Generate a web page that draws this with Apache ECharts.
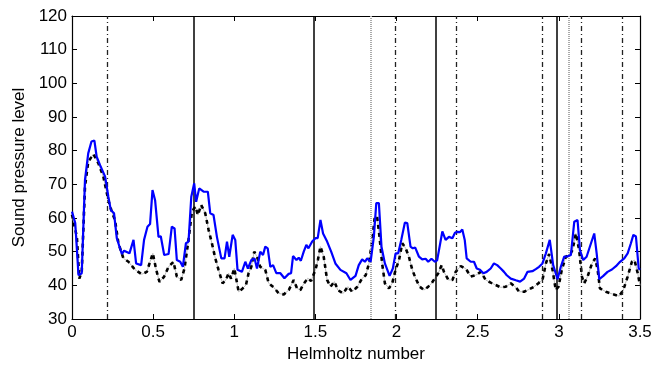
<!DOCTYPE html>
<html><head><meta charset="utf-8">
<script src="https://cdn.jsdelivr.net/npm/echarts@6/dist/echarts.min.js"></script>
<style>html,body{margin:0;padding:0;background:#fff}#c{width:655px;height:371px}</style>
</head><body><div id="c"></div>
<script>
const blueH = [0,0.02,0.04,0.06,0.08,0.10,0.12,0.138,0.152,0.173,0.204,0.224,0.239,0.259,0.276,0.307,0.321,0.354,0.379,0.395,0.426,0.444,0.465,0.481,0.496,0.512,0.533,0.547,0.568,0.595,0.615,0.632,0.646,0.667,0.683,0.702,0.718,0.735,0.753,0.765,0.784,0.811,0.837,0.852,0.872,0.893,0.92,0.94,0.955,0.969,0.99,1.006,1.02,1.047,1.068,1.084,1.105,1.125,1.14,1.16,1.177,1.191,1.206,1.222,1.239,1.259,1.284,1.309,1.335,1.35,1.362,1.383,1.397,1.41,1.428,1.444,1.457,1.48,1.5,1.514,1.531,1.547,1.572,1.597,1.623,1.654,1.691,1.716,1.747,1.767,1.788,1.805,1.819,1.84,1.86,1.875,1.891,1.907,1.928,1.957,1.977,1.994,2.01,2.029,2.051,2.066,2.086,2.1,2.115,2.138,2.158,2.179,2.195,2.215,2.236,2.25,2.282,2.302,2.323,2.344,2.36,2.374,2.39,2.405,2.42,2.432,2.457,2.477,2.494,2.514,2.535,2.555,2.58,2.6,2.62,2.642,2.662,2.679,2.704,2.735,2.761,2.786,2.807,2.837,2.858,2.878,2.899,2.92,2.944,2.965,2.992,3.012,3.033,3.053,3.074,3.095,3.115,3.13,3.15,3.171,3.198,3.218,3.233,3.249,3.274,3.3,3.327,3.352,3.377,3.403,3.424,3.444,3.459,3.475,3.492,3.5];
const blueV = [61.9,58.5,43,43.6,71.3,79.2,82.7,83,78.2,75.7,72.3,66.3,62.4,61.4,54,49.3,50.3,49.5,53.5,46.5,46,53.5,57.4,58.2,68.3,65.3,54.4,54.6,49,49.3,57.4,56.9,47.5,47,45.5,52.5,53,66.3,70.3,64.8,68.8,67.8,67.8,61.4,60.9,54.4,48,48,53,48.5,55,53.5,44.6,44,47,45,47.5,48,45,50,49,51.5,51,45.5,46,43.6,43.6,42.1,43.4,43.6,48.7,47.5,48.2,47.3,50,52,51,53,54,54,59.4,55.4,53,50,46.5,44.6,43.6,41.6,42.8,46,47.7,47,48,47,54.4,64.4,64.4,51.5,46.5,42.8,45,49.5,49.5,53.5,58.6,58.5,51.5,51,51.2,48.5,47.7,47.9,47,47.9,47,47.4,56,53.5,54.4,54,55.6,55.9,55.8,56.6,53.5,48,47,47,45,44.6,43.6,44,45,46.5,46,45,44,43,42,41.5,41.1,42,44,44.2,44.8,45.5,46.5,49.5,53.5,46,41.8,45.5,48.5,48.6,49,58.9,59.4,50.5,47.5,48.5,52.5,55.4,49.5,41.8,42.8,44,44.7,45.7,47,48,49.5,52.5,55,54.5,45,44.6];
const blackH = [0,0.03,0.045,0.06,0.08,0.10,0.132,0.163,0.193,0.224,0.245,0.265,0.286,0.317,0.348,0.389,0.43,0.461,0.481,0.498,0.519,0.539,0.568,0.595,0.625,0.646,0.673,0.693,0.718,0.739,0.76,0.776,0.796,0.821,0.842,0.862,0.883,0.903,0.928,0.948,0.965,0.98,1.0,1.027,1.05,1.072,1.088,1.105,1.123,1.14,1.16,1.191,1.212,1.243,1.274,1.305,1.336,1.366,1.387,1.407,1.428,1.453,1.473,1.5,1.515,1.531,1.551,1.572,1.593,1.617,1.638,1.671,1.7,1.726,1.757,1.788,1.81,1.83,1.85,1.866,1.88,1.895,1.911,1.928,1.953,1.973,1.994,2.015,2.035,2.056,2.076,2.097,2.117,2.142,2.169,2.195,2.216,2.236,2.257,2.278,2.292,2.319,2.344,2.364,2.395,2.426,2.457,2.488,2.519,2.549,2.58,2.611,2.642,2.673,2.704,2.735,2.755,2.786,2.817,2.848,2.878,2.899,2.92,2.94,2.961,2.981,2.998,3.018,3.043,3.068,3.084,3.105,3.125,3.142,3.156,3.177,3.204,3.224,3.239,3.253,3.29,3.331,3.372,3.397,3.424,3.45,3.466,3.486,3.5];
const blackV = [61,54.4,42,44,69.3,76.7,79,76.2,72.3,65.3,61.9,59.4,52.5,48,47,44.6,43.3,44,47,49.5,44.6,41,42.6,45.5,47,42.6,41.6,45,53.5,61.9,63.4,60.9,63.9,61.4,56.4,52.5,48,44.6,40.6,41.6,43.6,42,45,38.1,39,40.1,43.6,45.5,50,48.5,45.5,44.6,40.6,39.4,37.6,37.3,38.6,41.6,39.1,38.6,40.5,42.1,41.3,44.6,47.5,51.5,48.5,41.6,39.6,41.1,38.6,37.6,39.6,38.1,39.5,42.1,43,46.5,53.5,60.4,60.4,54.4,46.5,40.6,39.1,40.6,44.6,47.5,52.5,51,48.5,44.6,42.1,39.6,38.6,39.6,40.6,42.1,43.6,46,44,41.6,41.6,44,45.7,45,42.6,43,44,41.6,40.8,40.1,39.4,39.6,40.6,39.4,38.1,38.1,38.8,39.6,40.8,41.6,46.5,49.3,44.6,38.6,39.6,44.6,48.5,49,50.5,55.4,50.5,42.6,40.6,42.6,46.5,48,44.6,39.1,38.1,37.4,36.8,38.6,42.6,47,47.5,43.6,40];
const solidLines = [0.746, 1.49, 2.24, 2.99];
const dashDotLines = [0.22, 1.99, 2.37, 2.90, 3.14, 3.39];
const dottedLines = [1.845, 3.055];
const xTicks = [0, 0.5, 1, 1.5, 2, 2.5, 3, 3.5];
const yTicks = [30, 40, 50, 60, 70, 80, 90, 100, 110, 120];

const FONT = 'Liberation Sans';
const zip = (a, b) => a.map((v, i) => [v, b[i]]);
const vlines = (arr, style) => ({
  silent: true, symbol: 'none', label: {show: false},
  lineStyle: style,
  data: arr.map(v => ({xAxis: v}))
});

const chart = echarts.init(document.getElementById('c'), null, {renderer: 'canvas'});
const axX = (pos, show) => ({
  type: 'value', min: 0, max: 3.5, interval: 0.5, position: pos,
  axisLine: {show: true, onZero: false, lineStyle: {color: '#000', width: 1.2}},
  axisTick: {show: true, inside: true, length: 5, lineStyle: {color: '#000'}},
  axisLabel: {show: show, color: '#000', fontSize: 17, fontFamily: FONT, margin: 5,
    formatter: v => xTicks.includes(v) ? String(v) : ''},
  splitLine: {show: false},
  name: show ? 'Helmholtz number' : '', nameLocation: 'middle', nameGap: 27,
  nameTextStyle: {color: '#000', fontSize: 17, fontFamily: FONT}
});
const axY = (pos, show) => ({
  type: 'value', min: 30, max: 120, interval: 10, position: pos,
  axisLine: {show: true, onZero: false, lineStyle: {color: '#000', width: 1.2}},
  axisTick: {show: true, inside: true, length: 5, lineStyle: {color: '#000'}},
  axisLabel: {show: show, color: '#000', fontSize: 17, fontFamily: FONT, margin: 5,
    formatter: v => yTicks.includes(v) ? String(v) : ''},
  splitLine: {show: false},
  name: show ? 'Sound pressure level' : '', nameLocation: 'middle', nameGap: 43,
  nameTextStyle: {color: '#000', fontSize: 17, fontFamily: FONT}
});

chart.setOption({
  animation: false,
  backgroundColor: '#fff',
  grid: {left: 72, right: 15, top: 16, bottom: 52, containLabel: false},
  xAxis: [axX('bottom', true), axX('top', false)],
  yAxis: [axY('left', true), axY('right', false)],
  series: [
    {type: 'line', data: [], xAxisIndex: 0, yAxisIndex: 0, symbol: 'none',
     markLine: vlines(dottedLines, {color: '#aaa', type: [1, 1], width: 2})},
    {type: 'line', data: [], xAxisIndex: 0, yAxisIndex: 0, symbol: 'none',
     markLine: vlines(solidLines, {color: '#000', type: 'solid', width: 1.5})},
    {type: 'line', data: [], xAxisIndex: 0, yAxisIndex: 0, symbol: 'none',
     markLine: vlines(dashDotLines, {color: '#222', type: [5, 3, 1, 3], width: 1.3})},
    {type: 'line', data: zip(blackH, blackV), symbol: 'none', z: 3,
     lineStyle: {color: '#bbb', width: 1}},
    {type: 'line', data: zip(blackH, blackV), symbol: 'none', z: 4,
     lineStyle: {color: '#000', width: 2.6, type: [4, 4]}},
    {type: 'line', data: zip(blueH, blueV), symbol: 'none', z: 5,
     lineStyle: {color: '#0000ff', width: 2.2}}
  ]
});
</script></body></html>
